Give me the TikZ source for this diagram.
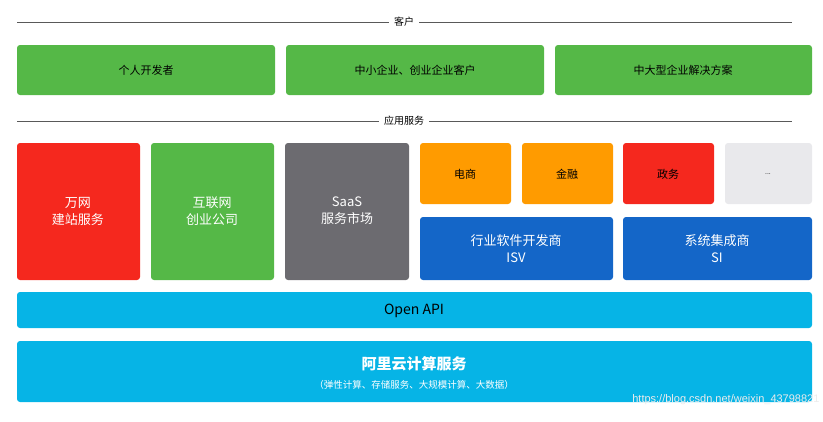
\documentclass[tikz,border=0pt]{standalone}
\usepackage{fontspec}
\setmainfont{Noto Sans CJK SC}
\newfontfamily\wm{Liberation Sans}
\definecolor{gr}{HTML}{55B847}
\definecolor{rd}{HTML}{F5281E}
\definecolor{gy}{HTML}{6C6B70}
\definecolor{og}{HTML}{FF9B00}
\definecolor{lg}{HTML}{E9E9EC}
\definecolor{bl}{HTML}{1466C8}
\definecolor{cy}{HTML}{06B4E6}
\begin{document}
\begin{tikzpicture}[x=1pt,y=-1pt,
 bx/.style={rounded corners=3pt,fill=#1,draw=none},
 lbl/.style={font=\fontsize{11}{13}\selectfont,align=center,text=white},
 dk/.style={font=\fontsize{11}{13}\selectfont,align=center,text=black},
 hd/.style={font=\fontsize{10}{12}\selectfont,fill=white,inner sep=5pt}]
\useasboundingbox (0,0) rectangle (823,421);
\draw[gray!70!black] (17,22) -- (792,22);
\node[hd] (h1) at (404,22) {客户};
\draw[gray!70!black] (17,121) -- (792,121);
\node[hd] (h2) at (404,121) {应用服务};
\fill[bx=gr] (17,45) rectangle (275,95); \node[dk] (c1) at (146,70) {个人开发者};
\fill[bx=gr] (286,45) rectangle (544,95); \node[dk] (c2) at (415,70) {中小企业、创业企业客户};
\fill[bx=gr] (555,45) rectangle (812,95); \node[dk] (c3) at (683,70) {中大型企业解决方案};
\fill[bx=rd] (17,143) rectangle (140,280); \node[lbl,font=\fontsize{13}{17}\selectfont] (a1) at (78,211) {万网\\建站服务};
\fill[bx=gr] (151,143) rectangle (274,280); \node[lbl,font=\fontsize{13}{17}\selectfont] (a2) at (212,211) {互联网\\创业公司};
\fill[bx=gy] (285,143) rectangle (409,280); \node[lbl,font=\fontsize{13}{17}\selectfont] (a3) at (347,211) {SaaS\\服务市场};
\fill[bx=og] (420,143) rectangle (511,204); \node[dk] (b1) at (465,174) {电商};
\fill[bx=og] (522,143) rectangle (613,204); \node[dk] (b2) at (567,174) {金融};
\fill[bx=rd] (623,143) rectangle (714,204); \node[dk] (b3) at (668,174) {政务};
\fill[bx=lg] (725,143) rectangle (812,204); \node[dk,font=\fontsize{7}{8}\selectfont] (b4) at (768,174) {...};
\fill[bx=bl] (420,217) rectangle (613,280); \node[lbl,font=\fontsize{13}{17}\selectfont] (d1) at (516,249) {行业软件开发商\\ISV};
\fill[bx=bl] (623,217) rectangle (812,280); \node[lbl,font=\fontsize{13}{17}\selectfont] (d2) at (717,249) {系统集成商\\SI};
\fill[bx=cy] (17,292) rectangle (812,328); \node[dk,font=\fontsize{14}{16}\selectfont] (e1) at (414,311) {Open API};
\fill[bx=cy] (17,341) rectangle (812,402);
\node[lbl,font=\fontsize{15}{17}\selectfont\bfseries] (f1) at (414,364) {阿里云计算服务};
\node[lbl,font=\fontsize{9.5}{11}\selectfont] (f2) at (414,385) {（弹性计算、存储服务、大规模计算、大数据）};
\node[font=\wm\fontsize{11}{12}\selectfont,text=white!85!gray,anchor=east] (w) at (823,400) {https://blog.csdn.net/weixin\_43798821};
\end{tikzpicture}
\end{document}
